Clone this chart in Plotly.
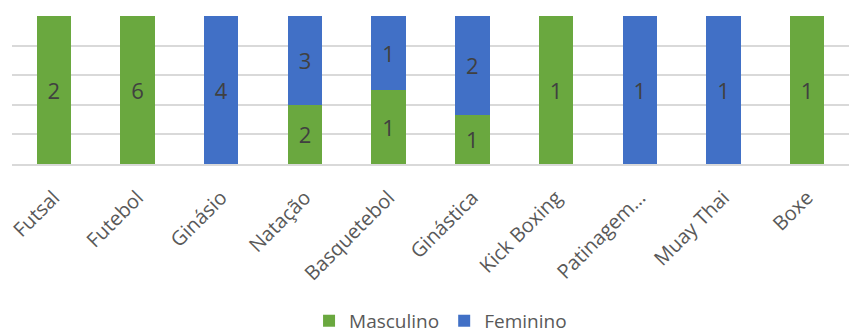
import plotly.graph_objects as go

categories = ["Futsal", "Futebol", "Ginásio", "Natação", "Basquetebol", "Ginástica",
              "Kick Boxing", "Patinagem…", "Muay Thai", "Boxe"]
masculino = [2, 6, 0, 2, 1, 1, 1, 0, 0, 1]
feminino = [0, 0, 4, 3, 1, 2, 0, 1, 1, 0]

FONT = "Open Sans"
TXT = "#595959"

def labels(vals):
    return [str(v) if v else "" for v in vals]

fig = go.Figure()
fig.add_bar(x=categories, y=masculino, name="Masculino", marker_color="#6aa83f",
            marker_line_width=0, text=labels(masculino), textposition="inside",
            insidetextanchor="middle", textangle=0,
            textfont=dict(family=FONT, size=22, color="#404040"))
fig.add_bar(x=categories, y=feminino, name="Feminino", marker_color="#4170c6",
            marker_line_width=0, text=labels(feminino), textposition="inside",
            insidetextanchor="middle", textangle=0,
            textfont=dict(family=FONT, size=22, color="#404040"))

fig.update_layout(
    barmode="stack", barnorm="percent", bargap=0.59,
    width=849, height=335, margin=dict(l=12, r=0, t=16, b=171, autoexpand=False),
    plot_bgcolor="white", paper_bgcolor="white",
    font=dict(family=FONT, color=TXT, size=16),
    uniformtext=dict(mode=False),
    legend=dict(orientation="h", x=0.512, xanchor="center", y=-1.06, yanchor="middle",
                font=dict(size=19, color=TXT), traceorder="normal", itemwidth=30),
    xaxis=dict(tickangle=-45, tickfont=dict(size=20, color=TXT), showline=True,
               linecolor="#d9d9d9", linewidth=2, ticks="", showgrid=False,
               ticklabelstandoff=12, automargin=False),
    yaxis=dict(range=[0, 100], dtick=20, showticklabels=False, showgrid=True,
               gridcolor="#d9d9d9", gridwidth=2, zeroline=False, ticks="",
               automargin=False),
)
fig.write_html("out.html")
